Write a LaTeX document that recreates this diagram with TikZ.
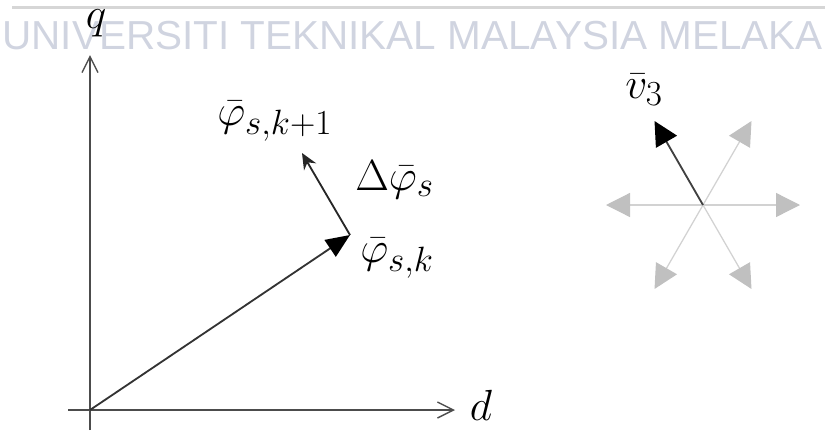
\RequirePackage{fix-cm}
\documentclass[tikz,border=0pt]{standalone}
\usepackage{fontspec}
\newfontfamily\wmfont{Liberation Sans}
\usetikzlibrary{arrows.meta}
\DeclareMathSizes{31}{31}{25}{19}
\definecolor{wmgray}{RGB}{208,212,224}
\definecolor{rulegray}{RGB}{214,214,214}
\definecolor{spokegray}{RGB}{210,210,210}
\definecolor{tipgray}{RGB}{192,192,192}

\begin{document}
\begin{tikzpicture}[
    x=0.25mm,y=-0.25mm,
    axis/.style={-{Straight Barb[length=4mm,width=4mm]},line width=1pt,black!70},
    vec/.style={-{Triangle[length=6mm,width=5mm,color=black]},line width=1.3pt,black!80},
    incr/.style={-{Stealth[length=4mm,width=3.5mm]},line width=1.3pt,black!85},
    spoke/.style={-{Triangle[length=6mm,width=6mm,color=tipgray]},line width=.9pt,spokegray},
    lbl/.style={font=\fontsize{31}{36}\selectfont,inner sep=0pt}
  ]
    \useasboundingbox (0,0) rectangle (825,430);
    % watermark
    \draw[rulegray,line width=.75mm] (12,7) -- (825,7);
    \node[anchor=base west,inner sep=0pt,text=wmgray,
      font=\wmfont\fontsize{28.8}{30}\selectfont] (wm) at (2,49)
      {UNIVERSITI TEKNIKAL MALAYSIA MELAKA};
    % dq plane
    \coordinate (o) at (90,410);
    \coordinate (dtail) at (68,410);
    \coordinate (dtip) at (455,410);
    \coordinate (qtail) at (90,430);
    \coordinate (qtip) at (90,55);
    \draw[axis] (dtail) -- (dtip);
    \draw[axis] (qtail) -- (qtip);
    \node[lbl,anchor=base] (dlab) at (481,420) {$d$};
    \node[lbl,anchor=base] (qlab) at (96,28) {$q$};
    \coordinate (psk) at (350,235);
    \coordinate (pnext) at (302,153);
    \draw[vec] (o) -- (psk);
    \draw[incr] (psk) -- (pnext);
    \node[lbl,anchor=base west] (lpsk) at (360,262) {$\bar{\varphi}_{s,k}$};
    \node[lbl,anchor=base west] (ldelta) at (355,190) {$\Delta\bar{\varphi}_s$};
    \node[lbl,anchor=base west] (lnext) at (217,125) {$\bar{\varphi}_{s,k+1}$};
    % voltage vectors
    \coordinate (hub) at (703,205);
    \foreach \a in {0,60,120,180,240,300}
      \path (hub) ++(\a:97) coordinate (sp\a);
    \foreach \a in {0,60,120,180,300}
      \draw[spoke] (hub) -- (sp\a);
    \draw[vec,-{Triangle[length=6mm,width=6mm,color=black]},black!75] (hub) -- (sp240);
    \node[lbl,anchor=base west] (lv3) at (625,98) {$\bar{v}_3$};
  \end{tikzpicture}
\end{document}
